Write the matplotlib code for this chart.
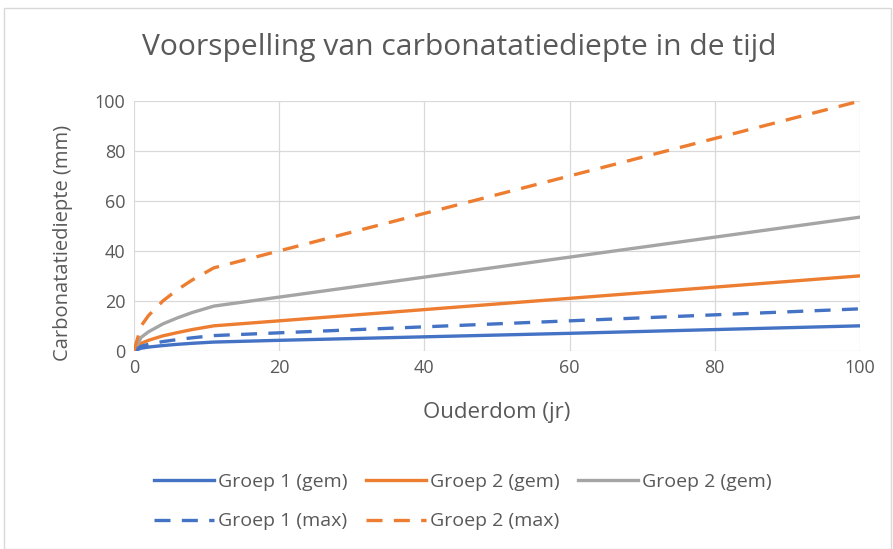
import matplotlib.pyplot as plt
from matplotlib.patches import Rectangle

plt.rcParams['font.family'] = ['Open Sans', 'DejaVu Sans']

# ---- data ----
ouderdom = [0, 1, 2, 4, 6, 8, 11, 20, 40, 60, 80, 100]
groep1_gem = [0, 1.05, 1.5, 2.1, 2.6, 3.0, 3.5, 4.2, 5.6, 7.0, 8.5, 10.0]
groep2_gem = [0, 3.0, 4.2, 6.0, 7.3, 8.5, 10.0, 12.0, 16.5, 21.0, 25.5, 30.0]
groep2_gem_grijs = [0, 5.4, 7.6, 10.8, 13.2, 15.3, 17.9, 21.5, 29.5, 37.5, 45.5, 53.5]
groep1_max = [0, 1.8, 2.6, 3.7, 4.5, 5.2, 6.1, 7.2, 9.6, 12.0, 14.4, 16.8]
groep2_max = [0, 10.0, 14.1, 20.0, 24.5, 28.3, 33.2, 40.0, 55.0, 70.0, 85.0, 100.0]

blue = '#4472C4'
orange = '#ED7D31'
grey = '#A5A5A5'
txt = '#595959'

fig = plt.figure(figsize=(8.93, 5.49), dpi=100)
ax = fig.add_axes([0.150, 0.361, 0.813, 0.455])

lw = 2.4
dash = (4.8, 3.4)
h1, = ax.plot(ouderdom, groep1_gem, color=blue, lw=lw, label='Groep 1 (gem)')
h2, = ax.plot(ouderdom, groep2_gem, color=orange, lw=lw, label='Groep 2 (gem)')
h3, = ax.plot(ouderdom, groep2_gem_grijs, color=grey, lw=lw, label='Groep 2 (gem)')
h4, = ax.plot(ouderdom, groep1_max, color=blue, lw=lw, dashes=dash, label='Groep 1 (max)')
h5, = ax.plot(ouderdom, groep2_max, color=orange, lw=lw, dashes=dash, label='Groep 2 (max)')

ax.set_xlim(0, 100)
ax.set_ylim(0, 100)
ax.set_xticks(range(0, 101, 20))
ax.set_yticks(range(0, 101, 20))
ax.grid(True, color='#D9D9D9', lw=0.9)
ax.set_axisbelow(True)
for s in ax.spines.values():
    s.set_visible(False)
ax.tick_params(length=0, colors=txt, labelsize=13, pad=6)

fig.text(0.514, 0.913, 'Voorspelling van carbonatatiediepte in de tijd',
         fontsize=21.6, color=txt, ha='center', va='center')
fig.text(0.556, 0.248, 'Ouderdom (jr)', fontsize=16, color=txt, ha='center', va='center')
fig.text(0.071, 0.557, 'Carbonatatiediepte (mm)', fontsize=14.5, color=txt,
         ha='center', va='center', rotation=90)

# order so that ncol=3 gives rows: gem-gem-gem / max-max
leg = fig.legend([h1, h4, h2, h5, h3],
                 [h1.get_label(), h4.get_label(), h2.get_label(), h5.get_label(), h3.get_label()],
                 ncol=3, loc='center left', bbox_to_anchor=(0.172, 0.086),
                 frameon=False, fontsize=14, handlelength=3.1, handletextpad=0.2,
                 columnspacing=0.95, labelspacing=1.1, borderaxespad=0, borderpad=0)
for t in leg.get_texts():
    t.set_color(txt)

# light border around the chart area
fig.patches.append(Rectangle((0.004, 0.0), 0.994, 0.985, transform=fig.transFigure,
                             fill=False, edgecolor='#D9D9D9', lw=1))

plt.savefig('out.png', dpi=100)
